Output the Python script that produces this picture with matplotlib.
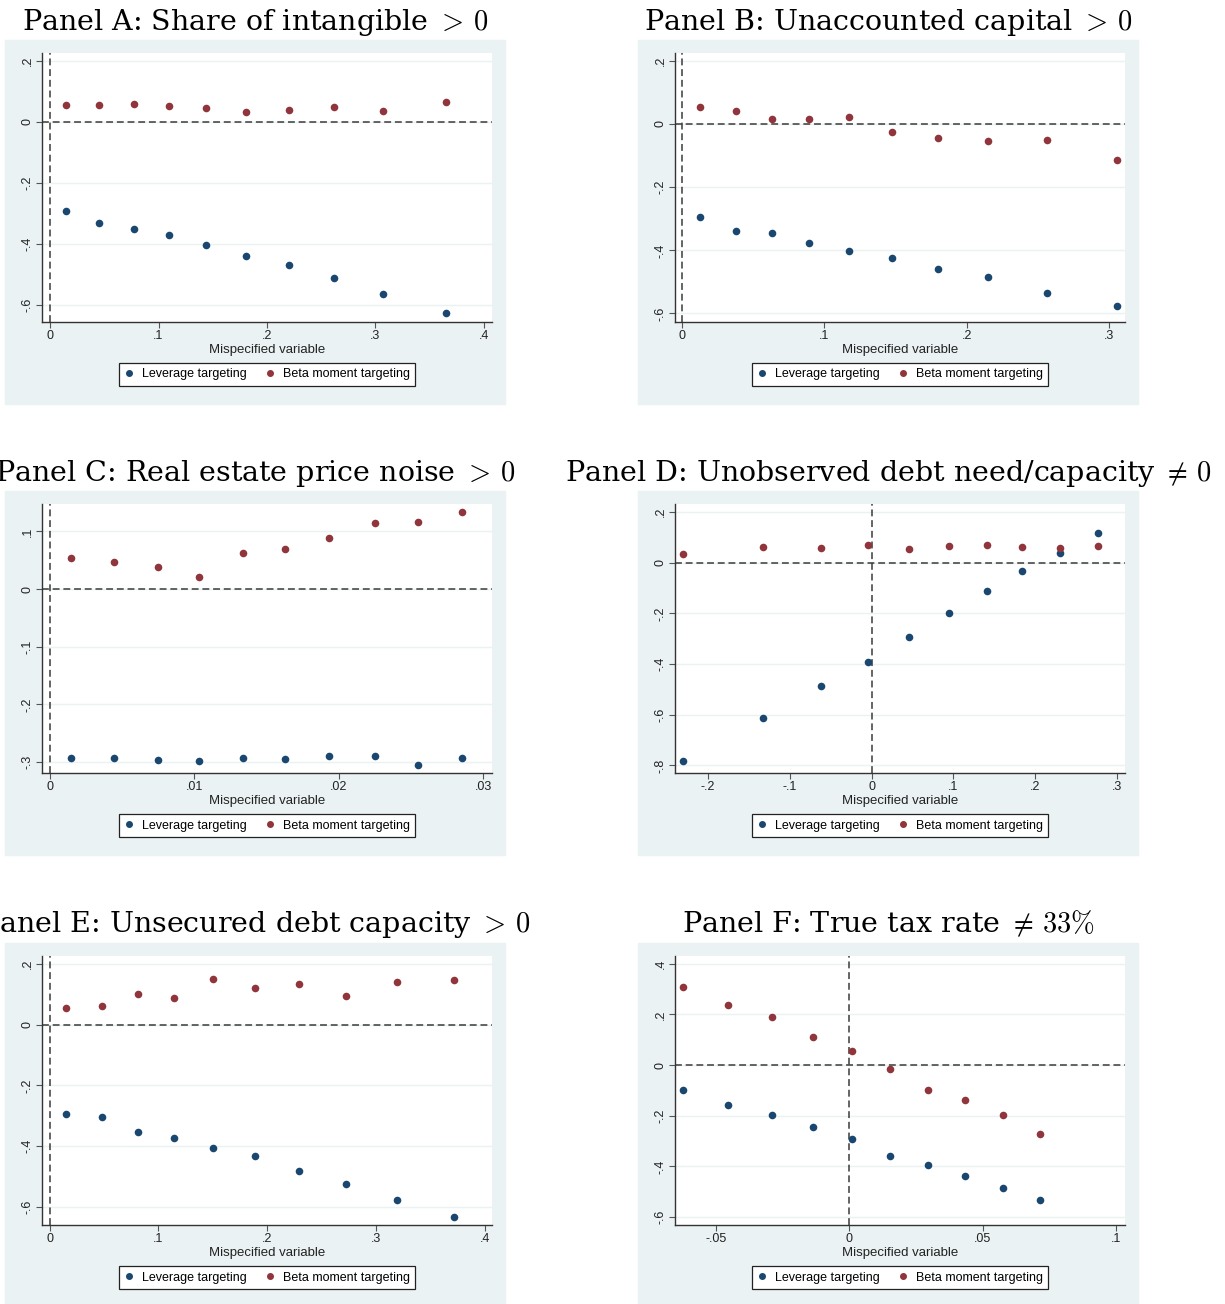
import matplotlib
matplotlib.use("Agg")
import matplotlib.pyplot as plt
from matplotlib.lines import Line2D
from matplotlib.patches import Rectangle

# --- data ---------------------------------------------------------------
a_x = [0.015, 0.045, 0.077, 0.110, 0.144, 0.181, 0.220, 0.262, 0.307, 0.365]
a_lev = [-0.291, -0.330, -0.352, -0.372, -0.403, -0.439, -0.469, -0.511, -0.562, -0.625]
a_beta = [0.054, 0.055, 0.058, 0.051, 0.045, 0.032, 0.040, 0.049, 0.035, 0.064]

b_x = [0.0127, 0.0377, 0.063, 0.0893, 0.1174, 0.1474, 0.1795, 0.2149, 0.2562, 0.3054]
b_lev = [-0.293, -0.339, -0.346, -0.378, -0.402, -0.424, -0.458, -0.484, -0.534, -0.576]
b_beta = [0.055, 0.041, 0.016, 0.017, 0.022, -0.026, -0.043, -0.055, -0.050, -0.115]

c_x = [0.0015, 0.00445, 0.00748, 0.01036, 0.01334, 0.01629, 0.01934, 0.0225, 0.0255, 0.02853]
c_lev = [-0.2925, -0.2925, -0.2965, -0.2988, -0.2936, -0.2954, -0.2902, -0.2902, -0.3052, -0.2936]
c_beta = [0.054, 0.047, 0.039, 0.021, 0.062, 0.070, 0.088, 0.114, 0.117, 0.134]

d_x = [-0.231, -0.133, -0.062, -0.004, 0.046, 0.095, 0.141, 0.184, 0.230, 0.277]
d_lev = [-0.784, -0.611, -0.487, -0.391, -0.292, -0.200, -0.111, -0.033, 0.037, 0.116]
d_beta = [0.034, 0.061, 0.058, 0.070, 0.055, 0.065, 0.071, 0.062, 0.059, 0.065]

e_x = [0.0153, 0.0483, 0.0812, 0.1146, 0.1504, 0.189, 0.229, 0.2724, 0.319, 0.3714]
e_lev = [-0.293, -0.305, -0.354, -0.373, -0.405, -0.434, -0.483, -0.524, -0.576, -0.633]
e_beta = [0.054, 0.060, 0.102, 0.088, 0.150, 0.122, 0.133, 0.093, 0.142, 0.146]

f_x = [-0.0623, -0.0453, -0.0290, -0.0135, 0.0011, 0.0152, 0.0293, 0.0434, 0.0574, 0.0714]
f_lev = [-0.099, -0.157, -0.199, -0.246, -0.293, -0.358, -0.396, -0.437, -0.484, -0.533]
f_beta = [0.308, 0.237, 0.190, 0.111, 0.054, -0.016, -0.100, -0.140, -0.199, -0.272]

titles = [
    r"Panel A: Share of intangible $>\,0$",
    r"Panel B: Unaccounted capital $>\,0$",
    r"Panel C: Real estate price noise $>\,0$",
    r"Panel D: Unobserved debt need/capacity $\neq\,0$",
    r"Panel E: Unsecured debt capacity $>\,0$",
    r"Panel F: True tax rate $\neq\,33\%$",
]
x_ticks = [
    [0, 0.1, 0.2, 0.3, 0.4],
    [0, 0.1, 0.2, 0.3],
    [0, 0.01, 0.02, 0.03],
    [-0.2, -0.1, 0, 0.1, 0.2, 0.3],
    [0, 0.1, 0.2, 0.3, 0.4],
    [-0.05, 0, 0.05, 0.1],
]
y_ticks = [
    [-0.6, -0.4, -0.2, 0, 0.2],
    [-0.6, -0.4, -0.2, 0, 0.2],
    [-0.3, -0.2, -0.1, 0, 0.1],
    [-0.8, -0.6, -0.4, -0.2, 0, 0.2],
    [-0.6, -0.4, -0.2, 0, 0.2],
    [-0.6, -0.4, -0.2, 0, 0.2, 0.4],
]
x_lims = [(-0.0074, 0.4074), (-0.0049, 0.311), (-0.00053, 0.03059),
          (-0.2404, 0.31), (-0.00716, 0.4068), (-0.06526, 0.1032)]
y_lims = [(-0.655, 0.225), (-0.627, 0.2248), (-0.319, 0.1474),
          (-0.830, 0.2316), (-0.6597, 0.2261), (-0.6316, 0.4303)]

NAVY = "#1a476f"
MAROON = "#90353b"
BG = "#eaf2f3"
W, H = 1225, 1304

plt.rcParams["mathtext.fontset"] = "cm"
plt.rcParams["font.family"] = ["Liberation Sans", "DejaVu Sans"]

fig = plt.figure(figsize=(W / 100, H / 100), dpi=100)


def stata_fmt(v):
    s = f"{v:g}"
    return s.replace("-0.", "-.").replace("0.", ".") if s not in ("0", "-0") else "0"


def draw_panel(i, bx, by, x, lev, beta):
    """One Stata-style panel: grey box, white plot region, legend underneath."""
    fig.patches.append(Rectangle((bx / W, 1 - (by + 364) / H), 500 / W, 364 / H,
                                 transform=fig.transFigure, color=BG, zorder=-10))
    fig.text((bx + 250) / W, 1 - (by - 10.5) / H, titles[i], ha="center", va="baseline",
             fontsize=20.5, family="DejaVu Serif")

    ax = fig.add_axes([(bx + 37) / W, 1 - (by + 282) / H, 450 / W, 269 / H])
    ax.set_zorder(2)
    ax.set_xlim(*x_lims[i])
    ax.set_ylim(*y_lims[i])
    ax.set_xticks(x_ticks[i])
    ax.set_xticklabels([stata_fmt(v) for v in x_ticks[i]])
    ax.set_yticks(y_ticks[i])
    ax.set_yticklabels([stata_fmt(v) for v in y_ticks[i]], rotation=90, va="center")
    for sp in ("top", "right"):
        ax.spines[sp].set_visible(False)
    for sp in ("left", "bottom"):
        ax.spines[sp].set_color("#333333")
        ax.spines[sp].set_linewidth(1.0)
    ax.tick_params(length=4, width=0.8, color="#555555", labelsize=9, pad=2,
                   labelcolor="#222222")
    ax.grid(axis="y", color=BG, linewidth=1.0, zorder=0)
    ax.set_axisbelow(True)

    ax.axhline(0, color="#3a3a3a", lw=1.1, ls=(0, (4.5, 2.5)), zorder=1)
    ax.axvline(0, color="#3a3a3a", lw=1.1, ls=(0, (4.5, 2.5)), zorder=1)

    ax.scatter(x, lev, s=30, color=NAVY, zorder=3, linewidths=0)
    ax.scatter(x, beta, s=30, color=MAROON, zorder=3, linewidths=0)
    ax.set_xlabel("Mispecified variable", fontsize=9.5, labelpad=1, color="#222222")

    handles = [
        Line2D([], [], marker="o", ls="", color=NAVY, markersize=4, label="Leverage targeting"),
        Line2D([], [], marker="o", ls="", color=MAROON, markersize=4, label="Beta moment targeting"),
    ]
    leg = ax.legend(handles=handles, loc="center", ncol=2,
                    bbox_to_anchor=((bx + 262) / W, 1 - (by + 334.5) / H),
                    bbox_transform=fig.transFigure, frameon=True, fancybox=False,
                    edgecolor="#222222", framealpha=1, fontsize=9,
                    handlelength=0.8, handletextpad=0.6, columnspacing=1.5,
                    borderpad=0.45)
    leg.get_frame().set_linewidth(0.9)


panels = [
    (5, 40, a_x, a_lev, a_beta),
    (638, 40, b_x, b_lev, b_beta),
    (5, 491, c_x, c_lev, c_beta),
    (638, 491, d_x, d_lev, d_beta),
    (5, 943, e_x, e_lev, e_beta),
    (638, 943, f_x, f_lev, f_beta),
]
for i, (bx, by, x, lev, beta) in enumerate(panels):
    draw_panel(i, bx, by, x, lev, beta)

fig.savefig("out.png", dpi=100, facecolor="white")
